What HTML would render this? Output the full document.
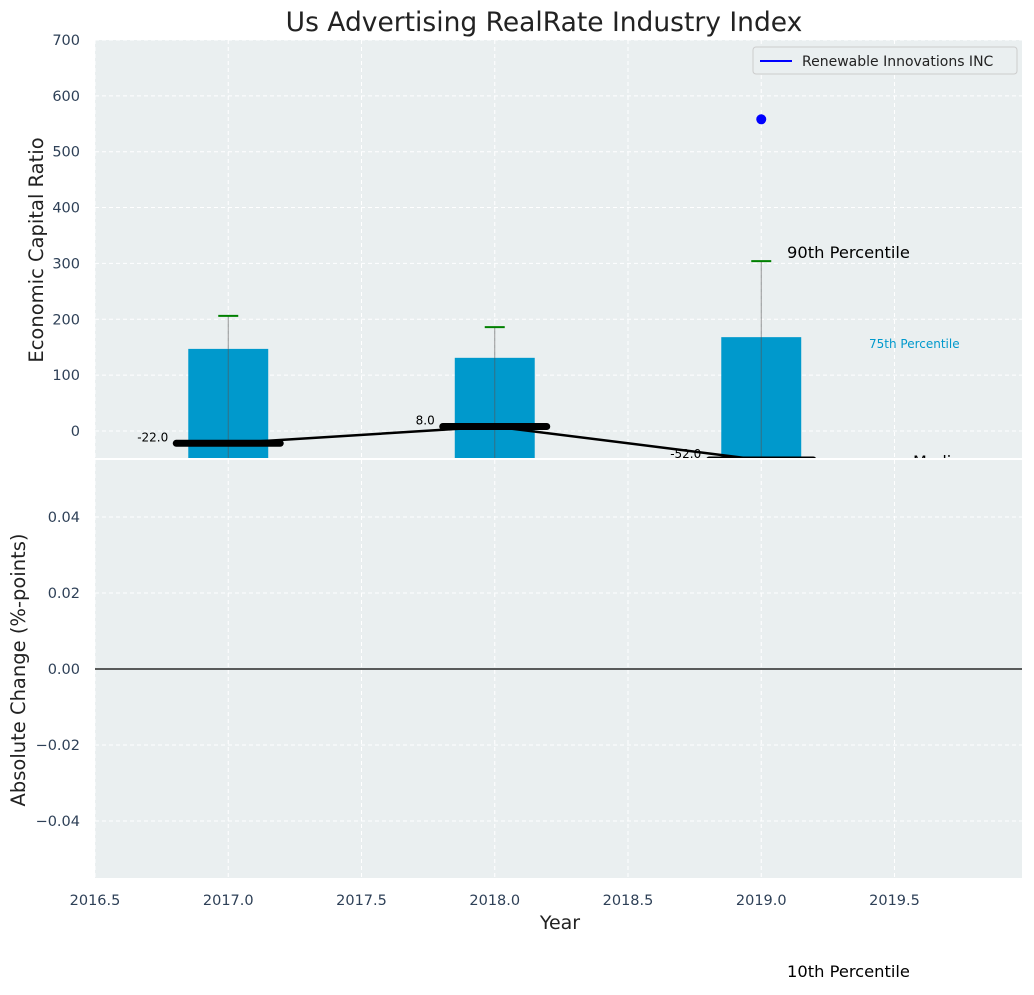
<!DOCTYPE html>
<html><head><meta charset="utf-8"><style>
body{margin:0;background:#fff;font-family:"Liberation Sans","DejaVu Sans",sans-serif}
svg text{font-family:"DejaVu Sans","Liberation Sans",sans-serif}
</style></head><body>
<svg id="chart" width="1034" height="990" xmlns="http://www.w3.org/2000/svg">
<defs>
<clipPath id="topClip"><rect x="95" y="40" width="927" height="418"/></clipPath>
</defs>
<g id="topg"></g>
<g id="botg"></g>
</svg>
<script>
const years = [2017, 2018, 2019];
const p75 = [147, 131, 168];
const p90 = [206, 186, 304];
const medians = [-22, 8, -52];
const companyYears = [2019];
const companyVals = [558];
const topTicks = [0, 100, 200, 300, 400, 500, 600, 700];
const botTicks = [-0.04, -0.02, 0, 0.02, 0.04];
const xTicks = [2016.5, 2017, 2017.5, 2018, 2018.5, 2019, 2019.5];

const NS = "http://www.w3.org/2000/svg";
const svgEl = document.getElementById('chart');
const topPanel = document.getElementById('topg');
const botPanel = document.getElementById('botg');
const X = v => 95 + (v - 2016.5) * 266.5;
const YT = v => 431 - v * 0.5586;
const YB = v => 669 - v * 3800;
function mk(parent, tag, attrs, text) {
  const el = document.createElementNS(NS, tag);
  for (const k in attrs) el.setAttribute(k, attrs[k]);
  if (text !== undefined) el.textContent = text;
  parent.appendChild(el);
  return el;
}
let e;
e = mk(topPanel, 'rect', {x:95, y:40, width:927, height:418, fill:'#eaeff0'});


e = mk(botPanel, 'rect', {x:95, y:460, width:927, height:418, fill:'#eaeff0'});


xTicks.forEach(t => {
  e = mk(topPanel, 'line', {x1:X(t), x2:X(t), y1:40, y2:458, stroke:'#fff', 'stroke-dasharray':'4,3', 'stroke-width':1});
  
  
  e = mk(botPanel, 'line', {x1:X(t), x2:X(t), y1:460, y2:878, stroke:'#fff', 'stroke-dasharray':'4,3', 'stroke-width':1});
  
  
  e = mk(botPanel, 'text', {x:X(t), y:905, 'text-anchor':'middle', 'font-size':14.5, fill:'#2e4057'}, t.toFixed(1));
  
  
});
topTicks.forEach(t => {
  e = mk(topPanel, 'line', {x1:95, x2:1022, y1:YT(t), y2:YT(t), stroke:'#fff', 'stroke-dasharray':'4,3'});
  
  
  e = mk(topPanel, 'text', {x:80, y:YT(t)+5, 'text-anchor':'end', 'font-size':14.5, fill:'#2e4057'}, String(t));
  
  
});
botTicks.forEach(t => {
  e = mk(botPanel, 'line', {x1:95, x2:1022, y1:YB(t), y2:YB(t), stroke:'#fff', 'stroke-dasharray':'4,3'});
  
  
  e = mk(botPanel, 'text', {x:80, y:YB(t)+5, 'text-anchor':'end', 'font-size':14.5, fill:'#2e4057'}, (t < 0 ? '\u2212' : '') + Math.abs(t).toFixed(2));
  
  
});
e = mk(botPanel, 'line', {x1:95, x2:1022, y1:YB(0), y2:YB(0), stroke:'#000', 'stroke-width':1.2});



const g = mk(topPanel, 'g', {'clip-path':'url(#topClip)'});
years.forEach((y, i) => {
  e = mk(g, 'rect', {x:X(y-0.15), y:YT(p75[i]), width:0.3*266.5, height:YT(-50)-YT(p75[i]), fill:'#0099cc'});
  
  
  e = mk(g, 'line', {x1:X(y), x2:X(y), y1:YT(-50), y2:YT(p90[i]), stroke:'#555', 'stroke-width':1, opacity:0.6});
  
  
  e = mk(g, 'line', {x1:X(y)-10, x2:X(y)+10, y1:YT(p90[i]), y2:YT(p90[i]), stroke:'green', 'stroke-width':2});
  
  
});
e = mk(g, 'polyline', {points: years.map((y,i)=>X(y)+','+YT(medians[i])).join(' '), fill:'none', stroke:'#000', 'stroke-width':2.5});


years.forEach((y, i) => {
  e = mk(g, 'line', {x1:X(y)-52, x2:X(y)+52, y1:YT(medians[i]), y2:YT(medians[i]), stroke:'#000', 'stroke-width':7, 'stroke-linecap':'round'});
  
  
  e = mk(g, 'text', {x:X(y)-60, y:YT(medians[i])-2, 'text-anchor':'end', 'font-size':12, fill:'#000'}, medians[i].toFixed(1));
  
  
});
companyYears.forEach((y, i) => {
  e = mk(g, 'circle', {cx:X(y), cy:YT(companyVals[i]), r:5, fill:'blue'});
  
  
});
e = mk(g, 'text', {x:913, y:467, 'font-size':16, fill:'#000'}, 'Median');


e = mk(topPanel, 'text', {x:787, y:258, 'font-size':16.3, fill:'#000'}, '90th Percentile');


e = mk(topPanel, 'text', {x:869, y:348, 'font-size':12, fill:'#0099cc'}, '75th Percentile');


e = mk(svgEl, 'text', {x:787, y:977, 'font-size':16.3, fill:'#000'}, '10th Percentile');


const lg = mk(topPanel, 'g', {});


mk(lg, 'rect', {x:753, y:47, width:264, height:27, rx:3, fill:'#eaeff0', stroke:'#ccc'});
mk(lg, 'line', {x1:760, x2:792, y1:61, y2:61, stroke:'blue', 'stroke-width':2});
e = mk(lg, 'text', {x:802, y:66, 'font-size':14, fill:'#222'}, 'Renewable Innovations INC');


e = mk(svgEl, 'text', {x:544, y:31, 'text-anchor':'middle', 'font-size':26.5, fill:'#222'}, 'Us Advertising RealRate Industry Index');


e = mk(svgEl, 'text', {x:0, y:0, transform:'translate(43,250) rotate(-90)', 'text-anchor':'middle', 'font-size':19.5, fill:'#222'}, 'Economic Capital Ratio');


e = mk(svgEl, 'text', {x:0, y:0, transform:'translate(25,670) rotate(-90)', 'text-anchor':'middle', 'font-size':19.5, fill:'#222'}, 'Absolute Change (%-points)');


e = mk(svgEl, 'text', {x:560, y:929, 'text-anchor':'middle', 'font-size':19, fill:'#222'}, 'Year');


</script>
</body></html>
